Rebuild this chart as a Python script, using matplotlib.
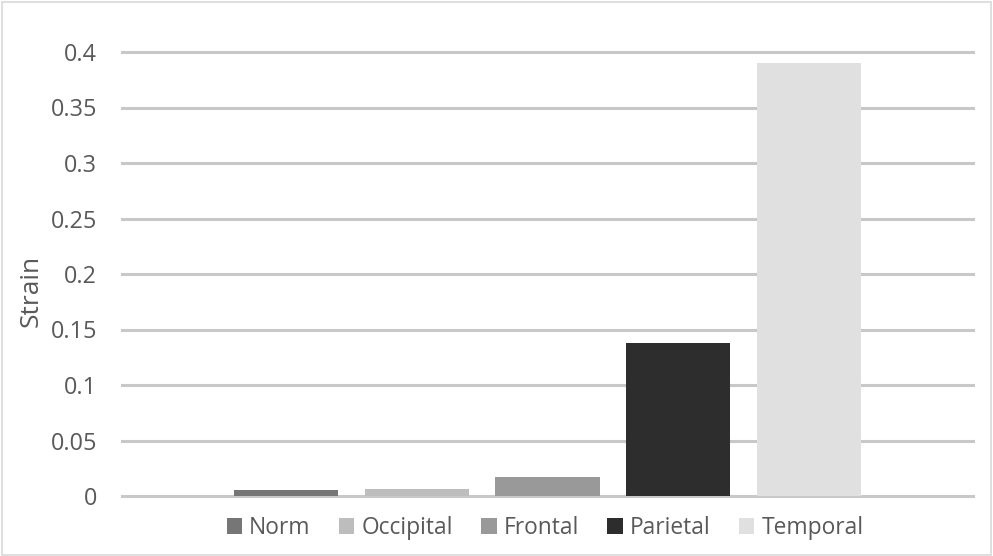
import matplotlib
matplotlib.use("Agg")
import matplotlib.pyplot as plt
from matplotlib.patches import Rectangle

# data
regions = ["Norm", "Occipital", "Frontal", "Parietal", "Temporal"]
strain = [0.0054, 0.0063, 0.017, 0.138, 0.39]
colors = ["#767676", "#bdbdbd", "#999999", "#2d2d2d", "#e0e0e0"]
yticks = [0, 0.05, 0.1, 0.15, 0.2, 0.25, 0.3, 0.35, 0.4]
ytick_labels = ["0", "0.05", "0.1", "0.15", "0.2", "0.25", "0.3", "0.35", "0.4"]

plt.rcParams['font.family'] = ['Open Sans', 'DejaVu Sans']

fig = plt.figure(figsize=(9.93, 5.56), dpi=100)
ax = fig.add_axes([122/993, 1 - 496/556, (973 - 122)/993, (496 - 52)/556])

x = list(range(len(regions)))
handles = []
for i, (name, v, c) in enumerate(zip(regions, strain, colors)):
    b = ax.bar(x[i], v, width=0.796, color=c, label=name, zorder=3)
    handles.append(b)

ax.set_xlim(-1.255, 4 + 1.255)
ax.set_ylim(0, 0.4)

# gridlines
for t in yticks:
    ax.axhline(t, color="#c8c8c8", lw=2.2, zorder=1, clip_on=False)

ax.set_yticks(yticks)
ax.set_yticklabels(ytick_labels)
ax.set_xticks([])
ax.tick_params(axis="y", length=0, pad=18, labelsize=16.8, labelcolor="#595959")
for s in ax.spines.values():
    s.set_visible(False)

# axis title sits a bit below the middle in the original
fig.text(31/993, 1 - 291/556, "Strain", rotation=90, fontsize=19, color="#595959",
         ha="center", va="center")

fig.legend(handles=handles, labels=regions, loc="center", bbox_to_anchor=(545/993, 1 - 528/556),
           ncol=5, frameon=False, fontsize=16.4, labelcolor="#595959",
           handlelength=0.68, handleheight=0.68, handletextpad=0.3, columnspacing=1.25)

# outer chart border
fig.patches.append(Rectangle((0.002, 0.002), 0.996, 0.994, transform=fig.transFigure,
                             fill=False, edgecolor="#d9d9d9", lw=1.2))

fig.savefig("out.png", dpi=100)
